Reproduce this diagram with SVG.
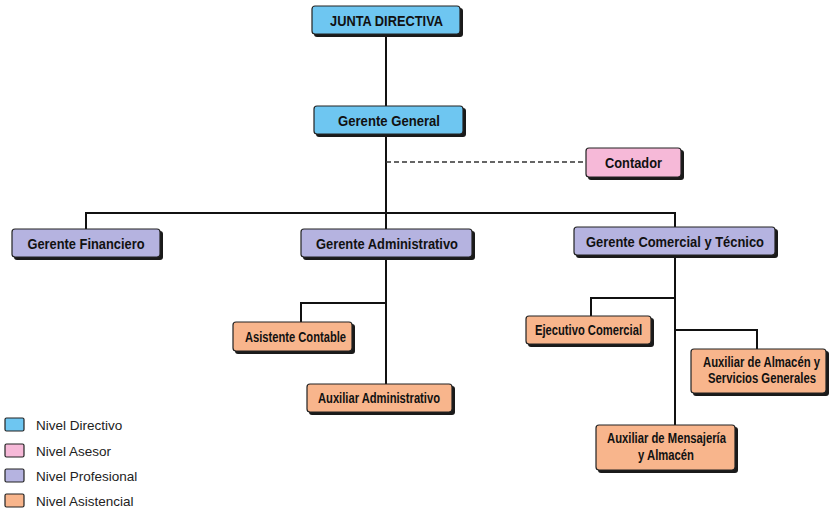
<svg xmlns="http://www.w3.org/2000/svg" width="829" height="510" viewBox="0 0 829 510">
  <defs>
    <style>
      .box { stroke: #222; stroke-width: 1.2; }
      .shadow { fill: #1a1a1a; }
      .dir { fill: #6EC6F1; }
      .ase { fill: #F6B9D8; }
      .pro { fill: #B5B3E0; }
      .asi { fill: #F8B58C; }
      .lbl { font-family: "Liberation Sans", Arial, sans-serif; font-weight: bold; font-size: 15px; fill: #111; text-anchor: middle; }
      .sm { font-size: 14px; }
      .leg { font-family: "Liberation Sans", Arial, sans-serif; font-size: 13.5px; fill: #222; }
      .wire { stroke: #111; stroke-width: 2; fill: none; }
      .dash { stroke: #333; stroke-width: 1.3; fill: none; stroke-dasharray: 5 3; }
    </style>
  </defs>
  <rect width="829" height="510" fill="#ffffff"/>

  <g id="connectors">
    <path class="wire" d="M386 34 V106"/>
    <path class="wire" d="M386 134 V229"/>
    <path class="dash" d="M386 162 H586"/>
    <path class="wire" d="M86 229 V213 H675 V227"/>
    <path class="wire" d="M386 257 V384"/>
    <path class="wire" d="M386 303 H301 V322"/>
    <path class="wire" d="M675 255 V425"/>
    <path class="wire" d="M675 298 H591 V316"/>
    <path class="wire" d="M675 330 H757 V349"/>
  </g>

  <g id="junta">
    <rect class="shadow" x="314" y="8" width="149" height="29" rx="3"/>
    <rect class="box dir" x="312" y="6" width="148" height="28" rx="3"/>
    <text class="lbl" x="386.5" y="25.5" textLength="113" lengthAdjust="spacingAndGlyphs">JUNTA DIRECTIVA</text>
  </g>
  <g id="gerente-general">
    <rect class="shadow" x="316" y="108" width="150" height="29" rx="3"/>
    <rect class="box dir" x="314" y="106" width="149" height="28" rx="3"/>
    <text class="lbl" x="389" y="125.5" textLength="102" lengthAdjust="spacingAndGlyphs">Gerente General</text>
  </g>
  <g id="contador">
    <rect class="shadow" x="588" y="150" width="96" height="30" rx="3"/>
    <rect class="box ase" x="586" y="148" width="95" height="29" rx="3"/>
    <text class="lbl" x="633.5" y="167.5" textLength="57" lengthAdjust="spacingAndGlyphs">Contador</text>
  </g>
  <g id="gerente-financiero">
    <rect class="shadow" x="14" y="231" width="149" height="29" rx="3"/>
    <rect class="box pro" x="12" y="229" width="148" height="28" rx="3"/>
    <text class="lbl" x="86" y="248.5" textLength="117" lengthAdjust="spacingAndGlyphs">Gerente Financiero</text>
  </g>
  <g id="gerente-administrativo">
    <rect class="shadow" x="303" y="231" width="172" height="29" rx="3"/>
    <rect class="box pro" x="301" y="229" width="171" height="28" rx="3"/>
    <text class="lbl" x="387" y="248.5" textLength="142" lengthAdjust="spacingAndGlyphs">Gerente Administrativo</text>
  </g>
  <g id="gerente-comercial">
    <rect class="shadow" x="576" y="229" width="202" height="29" rx="3"/>
    <rect class="box pro" x="574" y="227" width="201" height="28" rx="3"/>
    <text class="lbl" x="675" y="246.5" textLength="178" lengthAdjust="spacingAndGlyphs">Gerente Comercial y Técnico</text>
  </g>
  <g id="asistente-contable">
    <rect class="shadow" x="235" y="324" width="120" height="30" rx="3"/>
    <rect class="box asi" x="233" y="322" width="119" height="29" rx="3"/>
    <text class="lbl sm" x="295.5" y="342" textLength="101" lengthAdjust="spacingAndGlyphs">Asistente Contable</text>
  </g>
  <g id="auxiliar-administrativo">
    <rect class="shadow" x="309" y="386" width="146" height="29" rx="3"/>
    <rect class="box asi" x="307" y="384" width="145" height="28" rx="3"/>
    <text class="lbl sm" x="379" y="403" textLength="122" lengthAdjust="spacingAndGlyphs">Auxiliar Administrativo</text>
  </g>
  <g id="ejecutivo-comercial">
    <rect class="shadow" x="528" y="318" width="126" height="29" rx="3"/>
    <rect class="box asi" x="526" y="316" width="125" height="28" rx="3"/>
    <text class="lbl sm" x="588.5" y="335" textLength="107" lengthAdjust="spacingAndGlyphs">Ejecutivo Comercial</text>
  </g>
  <g id="auxiliar-almacen">
    <rect class="shadow" x="693" y="351" width="136" height="45" rx="3"/>
    <rect class="box asi" x="691" y="349" width="135" height="44" rx="3"/>
    <text class="lbl sm" x="761.5" y="367" textLength="117" lengthAdjust="spacingAndGlyphs">Auxiliar de Almacén y</text>
    <text class="lbl sm" x="762" y="383" textLength="108" lengthAdjust="spacingAndGlyphs">Servicios Generales</text>
  </g>
  <g id="auxiliar-mensajeria">
    <rect class="shadow" x="598" y="427" width="140" height="46" rx="3"/>
    <rect class="box asi" x="596" y="425" width="139" height="45" rx="3"/>
    <text class="lbl sm" x="666.5" y="443" textLength="119" lengthAdjust="spacingAndGlyphs">Auxiliar de Mensajería</text>
    <text class="lbl sm" x="666" y="460" textLength="56" lengthAdjust="spacingAndGlyphs">y Almacén</text>
  </g>

  <g id="legend">
    <rect class="box dir" x="5" y="418" width="19" height="13" rx="1.5" stroke-width="1"/>
    <text class="leg" x="36" y="430">Nivel Directivo</text>
    <rect class="box ase" x="5" y="444" width="19" height="13" rx="1.5" stroke-width="1"/>
    <text class="leg" x="36" y="456">Nivel Asesor</text>
    <rect class="box pro" x="5" y="469" width="19" height="13" rx="1.5" stroke-width="1"/>
    <text class="leg" x="36" y="481">Nivel Profesional</text>
    <rect class="box asi" x="5" y="494" width="19" height="13" rx="1.5" stroke-width="1"/>
    <text class="leg" x="36" y="506">Nivel Asistencial</text>
  </g>
</svg>
